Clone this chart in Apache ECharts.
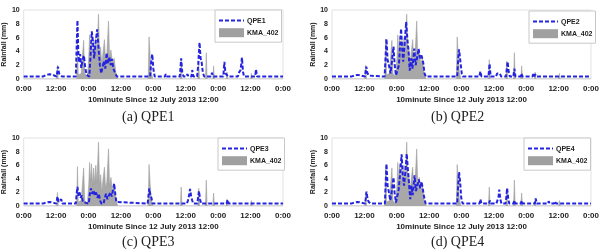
<!DOCTYPE html>
<html>
<head>
<meta charset="utf-8">
<script src="https://cdn.jsdelivr.net/npm/echarts@6/dist/echarts.min.js"></script>
<style>
html,body{margin:0;padding:0;background:#fff;}
#main{width:602px;height:250px;}
</style>
</head>
<body>
<div id="main"></div>
<script>
// 横轴刻度 (小时, 0~96, 每12小时一个)
var xTickLabels = ['0:00','12:00','0:00','12:00','0:00','12:00','0:00','12:00','0:00'];
var panelNames = ['QPE1','QPE2','QPE3','QPE4'];
var captions = ['(a) QPE1','(b) QPE2','(c) QPE3','(d) QPE4'];

// 观测值 KMA_402 [小时, mm]
var kma402 = [[0,0],[12.2,0],[12.5,2.0],[12.8,0],[19.6,0],[19.9,5.8],[20.2,0.6],[21.3,0.8],[21.8,3.5],[22.2,5.6],[22.6,0.8],[23.6,0.4],
  [24.1,3.2],[24.4,6.4],[24.7,3.6],[25.1,6.2],[25.5,3.0],[25.9,5.6],[26.3,3.2],[26.7,6.0],[27.1,3.4],[27.7,9.4],[28.1,3.0],[28.5,4.6],
  [28.9,2.0],[29.4,4.0],[29.9,5.7],[30.3,2.6],[30.8,3.6],[31.4,8.4],[31.8,3.0],[32.3,4.2],[32.9,2.2],[33.5,3.0],[34.1,1.0],[34.8,0],
  [46.1,0],[46.4,6.1],[46.8,3.4],[47.2,1.0],[47.8,0],[58,0],[58.3,2.8],[58.6,0],[64.5,0],[64.8,2.6],[65.1,0],[67.3,0],[67.6,3.8],[67.9,0],
  [70,0],[70.3,1.9],[70.6,0],[75,0],[75.3,1.0],[75.6,0],[84,0],[84.3,0.8],[84.6,0],[96,0]];

var qpe1 = [[0,0.35],[6.2,0.35],[6.6,0.5],[7.1,0.35],[8.3,0.6],[9,0.4],[9.6,0.7],[10.3,0.5],[10.8,0.6],[11.3,0.35],
  [12.2,0.35],[12.7,1.8],[13.1,0.8],[13.6,0.6],[14.2,0.35],
  [19.3,0.35],[19.9,8.5],[20.2,4.2],[20.5,2.4],[20.9,3.6],[21.3,1.6],[21.8,2.8],[22.3,3.4],[22.8,1.6],[23.3,0.6],[23.8,0.35],
  [24.3,0.35],[24.7,3.0],[25.2,6.9],[25.6,5.6],[26.1,3.0],[26.6,5.2],[27.2,7.2],[27.7,4.6],[28.2,2.0],[28.7,0.8],
  [29.2,0.6],[29.7,2.6],[30.2,1.5],[30.7,3.8],[31.2,2.2],[31.7,3.2],[32.2,2.0],[32.7,2.9],[33.2,1.5],[33.8,0.9],[34.5,0.35],
  [46.8,0.35],[47.2,2.4],[47.6,3.6],[48,1.5],[48.5,0.35],
  [50.3,0.35],[50.6,0.6],[51,0.35],[52.3,0.35],[52.6,0.7],[53,0.35],[54,0.35],[54.3,0.6],[54.7,0.35],
  [57.8,0.35],[58.3,3.0],[58.7,1.0],[59.2,0.35],[60.2,0.35],[60.6,0.7],[61,0.35],
  [62.1,0.35],[62.4,1.3],[62.8,0.35],
  [64.2,0.35],[64.6,2.0],[65.1,5.3],[65.5,3.0],[65.9,2.4],[66.3,1.0],[66.8,0.35],
  [69.3,0.35],[69.7,0.9],[70.1,0.35],
  [73.9,0.35],[74.3,2.5],[74.7,0.8],[75.3,0.6],[75.8,0.35],
  [79.3,0.35],[79.8,1.0],[80.3,1.3],[80.8,3.1],[81.2,1.0],[81.6,0.35],
  [85.7,0.35],[86,1.4],[86.4,0.35],[90.7,0.35],[91,0.5],[91.4,0.35],[96,0.35]];

var qpe2 = [[0,0.35],[6.2,0.35],[6.6,0.5],[7.1,0.35],[8.3,0.5],[9,0.4],[9.6,0.6],[10.3,0.4],[10.8,0.5],[11.3,0.35],
  [12.2,0.35],[12.7,1.8],[13.1,0.9],[13.6,0.5],[14.2,0.35],
  [19.5,0.35],[20.2,5.8],[20.6,2.8],[21.2,1.8],[21.7,0.8],[22.2,2.5],[22.8,4.7],[23.2,2.2],[23.7,0.5],[24.2,0.35],
  [24.8,2.0],[25.6,7.3],[26.0,4.5],[26.4,2.5],[26.9,5.0],[27.5,8.3],[27.9,6.0],[28.4,3.8],[28.8,1.2],
  [29.3,3.0],[29.8,1.5],[30.5,4.4],[31,2.0],[31.5,3.0],[32.1,4.4],[32.6,3.0],[33.2,3.4],[33.8,2.4],[34.3,0.8],[34.8,0.35],
  [46.4,0.35],[46.8,3.0],[47.1,4.3],[47.6,2.5],[48.1,0.8],[48.5,0.35],
  [53.4,0.35],[53.7,0.6],[54.1,0.35],[54.6,0.35],[55,1.1],[55.4,0.35],
  [58.0,0.35],[58.4,2.2],[58.8,0.35],
  [60.8,0.35],[61.2,0.8],[61.7,0.6],[62.2,0.8],[62.7,0.35],
  [64.5,0.35],[64.8,1.5],[65.1,2.5],[65.5,1.0],[65.9,0.35],
  [67.2,0.35],[67.6,1.5],[68,0.35],[69.9,0.35],[70.2,0.8],[70.6,0.35],
  [74.3,0.35],[74.6,0.7],[75,0.35],[75.3,0.7],[75.7,0.35],
  [79.8,0.35],[80.1,0.6],[80.5,0.35],[81.5,0.35],[81.8,0.6],[82.2,0.35],[82.8,0.35],[83.1,0.6],[83.5,0.35],
  [92,0.35],[92.3,0.5],[92.7,0.35],[96,0.35]];

var qpe3 = [[0,0.35],[6.2,0.35],[6.6,0.5],[7.1,0.35],[8.3,0.5],[9,0.4],[9.6,0.6],[10.3,0.4],[10.8,0.5],[11.3,0.35],
  [12.1,0.35],[12.5,1.4],[12.9,0.6],[13.5,0.35],[13.9,1.0],[14.3,0.35],
  [19.3,0.35],[19.6,1.8],[19.9,2.8],[20.3,1.5],[20.7,2.0],[21.1,1.2],[21.5,1.6],[21.9,0.6],[22.3,0.35],
  [24.1,0.35],[24.5,1.8],[24.9,2.6],[25.3,1.8],[25.8,2.3],[26.3,1.6],[26.8,2.0],[27.3,1.2],[27.8,1.8],[28.3,0.8],[28.8,0.35],
  [29.6,0.35],[30,1.2],[30.5,1.8],[31,1.0],[31.6,1.6],[32.1,2.0],[32.6,1.4],[33.1,2.4],[33.5,3.3],[33.9,1.8],[34.3,0.6],[34.7,0.35],
  [45.9,0.35],[46.2,1.5],[46.5,2.6],[46.9,1.6],[47.3,1.2],[47.7,0.35],
  [53.4,0.35],[53.7,0.5],[54.1,0.35],[54.7,0.35],[55,0.6],[55.4,0.35],
  [60.4,0.35],[60.8,0.8],[61.2,1.5],[61.6,2.5],[62,1.4],[62.4,0.8],[62.8,0.35],
  [64.3,0.35],[64.6,1.4],[64.9,2.2],[65.3,1.0],[65.7,0.35],
  [70,0.35],[70.3,0.6],[70.7,0.35],[75.1,0.35],[75.5,0.9],[75.9,0.35],
  [80.2,0.35],[80.5,0.6],[80.9,0.35],[82.2,0.35],[82.5,0.6],[82.9,0.35],[96,0.35]];

var qpe4 = [[0,0.35],[6.2,0.35],[6.6,0.5],[7.1,0.35],[8.3,0.5],[9,0.4],[9.6,0.6],[10.3,0.4],[10.8,0.5],[11.3,0.35],
  [12.3,0.35],[12.8,2.1],[13.2,1.0],[13.6,0.6],[14,0.7],[14.4,0.35],
  [19.6,0.35],[20.2,6.2],[20.6,3.0],[21.1,2.0],[21.6,0.8],[22.2,2.2],[22.8,4.2],[23.2,2.0],[23.7,0.5],[24.2,0.35],
  [24.7,2.4],[25.2,4.5],[25.8,7.6],[26.2,4.8],[26.7,3.0],[27.2,5.0],[27.7,7.7],[28.1,5.5],[28.6,3.0],[29,1.0],
  [29.4,3.0],[29.9,1.6],[30.6,4.5],[31.1,2.2],[31.6,3.0],[32.2,3.9],[32.7,2.6],[33.2,3.6],[33.7,3.5],[34.2,1.2],[34.7,0.35],
  [46.4,0.35],[46.8,3.2],[47.1,5.0],[47.5,3.5],[47.9,1.2],[48.4,0.35],
  [53.7,0.35],[54,0.6],[54.4,0.35],[54.7,0.35],[55,1.0],[55.4,0.35],
  [58.2,0.35],[58.5,0.8],[58.9,0.35],
  [60.9,0.35],[61.3,0.8],[61.7,1.2],[62,2.4],[62.4,1.0],[62.8,0.35],
  [64.3,0.35],[64.6,1.2],[64.9,2.6],[65.3,1.2],[65.7,0.35],
  [67.3,0.35],[67.6,0.8],[68,0.35],[70,0.35],[70.3,0.8],[70.7,0.35],
  [75.2,0.35],[75.5,1.1],[75.9,0.35],
  [80,0.35],[80.3,0.7],[80.7,0.35],[82.3,0.35],[82.6,0.7],[83,0.35],[96,0.35]];

var qpeData = [qpe1, qpe2, qpe3, qpe4];

//四个子图的位置
var grids = [
  {left:22, top:10, width:261, height:69},
  {left:332, top:10, width:260, height:69},
  {left:22, top:138, width:261, height:68},
  {left:332, top:138, width:260, height:68}
];
var legendPos = [[215,10],[529,11],[218,138],[524,138]];
var captionPos = [[152,118],[461,118],[152,243],[461,243]];

var myChart = echarts.init(document.getElementById('main'));
var boldFont = {fontFamily:'Liberation Sans', fontWeight:'bold', fontSize:8, color:'#222'};

var option = {
  animation:false,
  backgroundColor:'#fff',
  grid:[], xAxis:[], yAxis:[], series:[], legend:[], graphic:[]
};

for (var i = 0; i < 4; i++) {
  option.grid.push({left:grids[i].left, top:grids[i].top, width:grids[i].width, height:grids[i].height,
    show:true, borderColor:'#e2e2e2', borderWidth:1});
  option.xAxis.push({
    type:'value', gridIndex:i, min:0, max:96, interval:12,
    name:'10minute Since 12 July 2013 12:00', nameLocation:'middle', nameGap:17,
    nameTextStyle:boldFont,
    axisLine:{show:false}, axisTick:{show:false}, splitLine:{show:false},
    axisLabel:Object.assign({margin:6, formatter:function(v){ return xTickLabels[Math.round(v/12)]; }}, boldFont)
  });
  option.yAxis.push({
    type:'value', gridIndex:i, min:0, max:10, interval:2,
    name:'Rainfall (mm)', nameLocation:'middle', nameGap:12, nameRotate:90,
    nameTextStyle:Object.assign({}, boldFont, {fontSize:7}),
    axisLine:{show:false}, axisTick:{show:false}, splitLine:{show:false},
    axisLabel:Object.assign({}, boldFont, {fontSize:7, margin:4})
  });
  option.series.push({
    name:'KMA_402', type:'line', xAxisIndex:i, yAxisIndex:i, data:kma402,
    symbol:'none', z:1,
    lineStyle:{color:'#a0a0a0', width:0.6},
    itemStyle:{color:'#a0a0a0'},
    areaStyle:{color:'#a8a8a8', opacity:1}
  });
  option.series.push({
    name:panelNames[i], type:'line', xAxisIndex:i, yAxisIndex:i, data:qpeData[i],
    symbol:'none', z:3,
    lineStyle:{color:'#2424e0', width:2, type:[4,2]},
    itemStyle:{color:'#2424e0'}
  });
  option.legend.push({
    left:legendPos[i][0], top:legendPos[i][1], orient:'vertical',
    itemWidth:25, itemHeight:9, itemGap:4,
    padding:[7,3,5,3],
    borderColor:'#c8c8c8', borderWidth:1, backgroundColor:'#fff',
    textStyle:Object.assign({}, boldFont, {fontSize:7, padding:[0,0,0,-2]}),
    data:[{name:panelNames[i], itemStyle:{opacity:0}}, {name:'KMA_402', icon:'rect'}]
  });
  option.graphic.push({
    type:'text', left:captionPos[i][0] - 30, top:captionPos[i][1] - 8,
    style:{text:captions[i], fontFamily:'Liberation Serif', fontSize:14, fill:'#222'}
  });
}

myChart.setOption(option, true);
</script>
</body>
</html>
